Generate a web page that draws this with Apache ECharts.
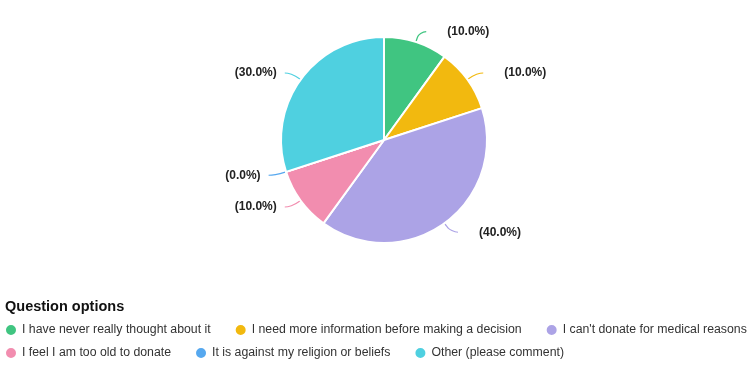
<!DOCTYPE html>
<html><head><meta charset="utf-8">
<script src="https://cdn.jsdelivr.net/npm/echarts@6/dist/echarts.min.js"></script>
<style>html,body{margin:0;padding:0;background:#fff}#c{width:752px;height:373px}</style>
</head><body><div id="c"></div>
<script>
const categories = [
  "I have never really thought about it",
  "I need more information before making a decision",
  "I can't donate for medical reasons",
  "I feel I am too old to donate",
  "It is against my religion or beliefs",
  "Other (please comment)"
];
const values = [10, 10, 40, 10, 0, 30];
const colors = ["#40c581", "#f2b90f", "#aca3e6", "#f28daf", "#56a8ef", "#4fd0e0"];
const legendRow1 = categories.slice(0, 3);
const legendRow2 = categories.slice(3);
const total = values.reduce((a, b) => a + b, 0);

// right-side labels sit further from their lines than left-side ones
let acc = 0;
const dataItems = categories.map((n, i) => {
  const mid = (acc + values[i] / 2) / total * 360; acc += values[i];
  const rightSide = mid < 180;
  return { name: n, value: values[i], label: { distanceToLabelLine: rightSide ? 21 : 8 } };
});

const chart = echarts.init(document.getElementById('c'));
const FONT = 'Liberation Sans, Arial, sans-serif';
const legendText = { fontFamily: FONT, fontSize: 12.3, color: '#333' };
const legendBase = { left: 4, width: 748, padding: 0, orient: 'horizontal', icon: 'circle', itemWidth: 12, itemHeight: 12, itemGap: 23, textStyle: legendText };
chart.setOption({
  animation: false,
  color: colors,
  title: {
    text: 'Question options', left: 0, top: 294,
    textStyle: { fontFamily: FONT, fontSize: 14.5, fontWeight: 'bold', color: '#111' }
  },
  legend: [
    Object.assign({ data: legendRow1, top: 323 }, legendBase),
    Object.assign({ data: legendRow2, top: 346 }, legendBase)
  ],
  series: [{
    type: 'pie',
    center: [384, 140],
    radius: [0, 103],
    startAngle: 90,
    clockwise: true,
    avoidLabelOverlap: false,
    itemStyle: { borderColor: '#fff', borderWidth: 2 },
    label: {
      formatter: p => '(' + (p.value / total * 100).toFixed(1) + '%)',
      fontFamily: FONT,
      fontSize: 12, fontWeight: 'bold', color: '#222'
    },
    labelLine: { show: true, length: 11, length2: 7, smooth: 0.6, lineStyle: { width: 1.2 } },
    emphasis: { disabled: true },
    data: dataItems
  }]
});
</script></body></html>
